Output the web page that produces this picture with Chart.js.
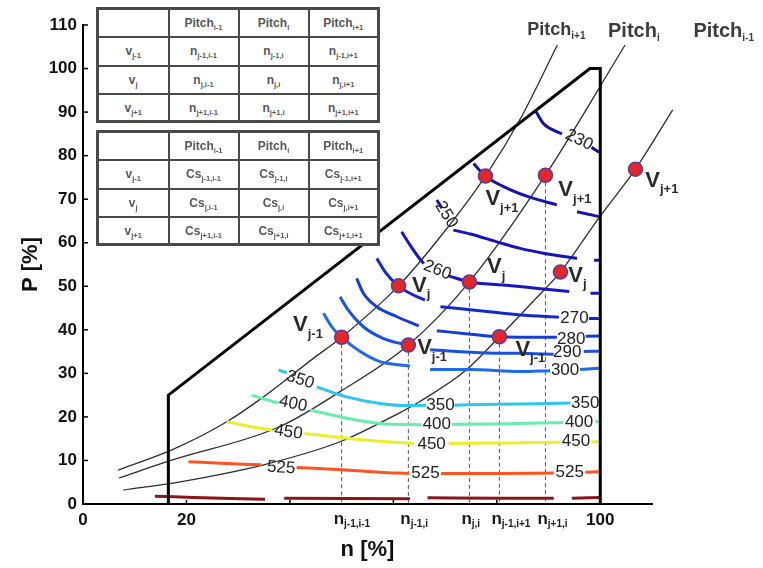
<!DOCTYPE html>
<html><head><meta charset="utf-8">
<script src="https://cdn.jsdelivr.net/npm/chart.js@4.4.0/dist/chart.umd.min.js"></script>
<style>
html,body{margin:0;padding:0;background:#fff;}
#wrap{position:relative;width:763px;height:568px;}
canvas{position:absolute;left:0;top:0;}
.tbl{position:absolute;left:96px;width:283px;border-collapse:collapse;table-layout:fixed;background:#fff;border:3px solid #4a4a4a;font:bold 12px "Liberation Sans",Arial,sans-serif;color:#585858;}
.tbl td{border:2px solid #4a4a4a;text-align:center;vertical-align:middle;padding:0;line-height:12px;overflow:hidden;white-space:nowrap;}
.tbl sub{font-size:7.5px;vertical-align:-3px;line-height:0;}
</style></head>
<body><div id="wrap"><canvas id="c" width="763" height="568"></canvas>
<table class="tbl" id="t1" style="top:7px"></table>
<table class="tbl" id="t2" style="top:130px"></table>
</div>
<script>
// ---------- DATA ----------
// pitch curves (n [%], P [%])
const pitchSubs = ['i+1', 'i', 'i-1'];
const pitchA_n = [6.8, 17.5, 27.8, 34.9, 44.6, 50.0, 61.0, 69.5, 77.8, 84.8, 91.7];
const pitchA_P = [7.8, 12.6, 18.9, 24.6, 33.5, 38.3, 50.1, 62.0, 75.3, 89.0, 105.4];
const pitchB_n = [7.0, 17.0, 38.1, 49.7, 62.9, 74.7, 89.4, 104.8];
const pitchB_P = [6.0, 10.0, 17.8, 25.8, 36.5, 51.0, 75.5, 105.4];
const pitchC_n = [7.8, 18.8, 34.9, 49.7, 61.3, 65.2, 73.9, 80.5, 87.0, 92.3, 99.6, 106.8, 114.0, 121.9];
const pitchC_P = [3.2, 5.1, 9.0, 14.3, 21.0, 23.6, 30.6, 38.4, 46.5, 53.3, 65.5, 76.9, 90.5, 105.4];

// operating points V on each pitch curve
const vSubs = ['j-1', 'j', 'j+1'];
const vA_n = [50.0, 61.0, 77.8], vA_P = [38.3, 50.1, 75.3];
const vB_n = [62.9, 74.7, 89.4], vB_P = [36.5, 51.0, 75.5];
const vC_n = [80.5, 92.3, 106.8], vC_P = [38.4, 53.3, 76.9];

// boundary of operating range
const boundN = [16.5, 16.5, 98.0, 100.0, 100.0];
const boundP = [0, 25.0, 100.0, 100.0, 0];

// contour lines (null = break)
const c230n = [87.4, 89.0, 91.6, 92.6, null, 98.3, 99.8];
const c230P = [90.5, 87.4, 85.5, 85.0, null, 81.9, 80.8];
const c240n = [75.5, 77.8, 81.3, 86.5, 91.6, null, 95.5, 99.8];
const c240P = [78.2, 75.3, 72.9, 70.4, 68.7, null, 67.1, 66.0];
const c250n = [68.4, 69.4, null, 71.6, 74.9, 80.0, 84.5, 89.0, 95.5, null, 98.8, 99.8];
const c250P = [69.8, 67.9, null, 62.9, 62.0, 60.2, 58.7, 57.6, 56.4, null, 56.0, 56.0];
const c260n = [61.6, 63.2, 64.9, 65.9, null, 70.7, 74.7, 81.3, 88.0, 94.0, null, 98.1, 99.8];
const c260P = [62.5, 59.5, 56.6, 55.2, null, 52.4, 51.0, 50.3, 49.5, 48.8, null, 48.4, 48.4];
const c270n = [56.8, 58.4, 60.9, 63.2, 66.1, null, 69.1, 78.1, 84.5, 92.0, null, 97.8, 99.8];
const c270P = [56.4, 53.3, 50.1, 48.4, 46.8, null, 45.3, 44.2, 43.4, 42.9, null, 42.6, 42.6];
const c280n = [52.9, 54.2, 56.8, 60.7, 64.9, null, 68.4, 74.9, 80.5, 86.0, 91.6, null, 97.2, 99.8];
const c280P = [51.8, 48.4, 45.3, 43.0, 40.9, null, 39.8, 39.0, 38.4, 38.3, 38.3, null, 38.5, 38.6];
const c290n = [49.7, 51.3, 54.2, 58.1, 62.9, 64.2, null, 67.1, 78.1, 84.5, 91.0, null, 96.8, 99.8];
const c290P = [47.6, 44.5, 40.7, 38.0, 36.5, 36.2, null, 35.4, 34.7, 34.6, 34.4, null, 35.0, 35.1];
const c300n = [46.5, 48.1, 50.0, 53.6, 57.4, 63.2, null, 67.1, 74.9, 84.5, 90.3, null, 96.1, 99.8];
const c300P = [43.8, 40.7, 38.3, 35.0, 32.7, 31.7, null, 30.9, 30.9, 30.4, 30.6, null, 30.9, 31.2];
const c350n = [37.8, 39.4, null, 45.2, 51.0, 57.4, 63.0, 66.3, null, 71.8, 80.0, 88.0, 94.2];
const c350P = [30.8, 30.1, null, 26.9, 24.6, 23.1, 22.6, 22.6, null, 22.7, 22.9, 23.0, 23.2];
const c400n = [32.6, 36.8, 37.8, null, 43.9, 51.0, 57.4, 65.5, null, 71.3, 80.0, 88.0, 92.9, null, 99.0, 99.8];
const c400P = [25.0, 23.5, 23.2, null, 21.6, 19.7, 18.5, 18.2, null, 18.3, 18.4, 18.6, 18.7, null, 18.9, 18.9];
const c450n = [27.8, 34.2, 36.6, null, 42.8, 51.0, 57.4, 64.0, null, 70.7, 80.0, 88.0, 92.3, null, 98.3, 99.8];
const c450P = [18.9, 17.4, 17.0, null, 16.2, 15.1, 14.4, 13.9, null, 13.9, 14.0, 14.1, 14.2, null, 14.3, 14.3];
const c525n = [20.4, 27.8, 34.4, null, 41.3, 51.0, 57.4, 63.0, null, 69.2, 80.0, 91.0, null, 97.1, 99.8];
const c525P = [9.7, 9.3, 9.0, null, 8.4, 7.8, 7.3, 7.0, null, 7.0, 7.0, 7.1, null, 7.3, 7.4];
const cBaseN = [13.9, 21.3, 35.2, null, 38.9, 63.2, null, 66.6, 80.7, 91.0, null, 94.5, 99.8];
const cBaseP = [1.8, 1.5, 1.1, null, 1.3, 1.2, null, 1.45, 1.3, 1.3, null, 1.3, 1.5];

// contour label texts and anchors (n, P, rotation deg)
const clText = ['230','250','260','270','280','290','300','350','350','350','400','400','400','450','450','450','525','525','525'];
const clN    = [95.9, 70.2, 68.5, 95.0, 94.4, 93.6, 93.2, 42.0, 69.1, 97.1, 40.6, 68.4, 95.9, 39.7, 67.4, 95.3, 38.3, 66.2, 94.1];
const clP    = [83.6, 66.4, 53.7, 42.7, 37.9, 34.9, 30.8, 28.5, 22.7, 23.1, 23.0, 18.3, 18.7, 16.5, 13.8, 14.3, 8.3, 7.0, 7.3];
const clRot  = [27, 58, 22, 0, 0, 0, 0, 18, 0, 0, 12, 0, 0, 8, 0, 0, 4, 0, 0];

// V label anchors (left of "V", vertical centre)
const vlN = [40.6, 63.6, 77.8, 64.6, 78.1, 91.9, 83.6, 93.8, 108.7];
const vlP = [41.1, 50.1, 70.0, 35.8, 54.4, 72.1, 35.4, 52.4, 74.2];
const vlSub = ['j-1','j','j+1','j-1','j','j+1','j-1','j','j+1'];

// pitch label anchors
const plN = [85.9, 101.5, 118.0];
const plP = [108.8, 108.4, 108.4];

// axis ticks
const xTickValues = [0, 20, 100];
const xSpecialSubs = ['j-1,i-1', 'j-1,i', 'j,i', 'j-1,i+1', 'j+1,i'];
const xSpecialN = [vA_n[0], vB_n[0], vB_n[1], vC_n[0], vB_n[2]];
const xSpecialTop = [vA_P[0], vB_P[0], vB_P[1], vC_P[0], vB_P[2]];

// tables
const tblCols = ['i-1', 'i', 'i+1'];
const tblRows = ['j-1', 'j', 'j+1'];

// ---------- TABLES ----------
function buildTable(id, prefix) {
  let h = '<colgroup><col style="width:71px"><col style="width:70px"><col style="width:70px"><col style="width:70px"></colgroup>';
  h += '<tr style="height:28.5px"><td></td>' + tblCols.map(c => 'Pitch<sub>' + c + '</sub>').map(s => '<td>' + s + '</td>').join('') + '</tr>';
  tblRows.forEach((r, ri) => {
    h += '<tr style="height:' + (ri === 2 ? 27.5 : 28.5) + 'px"><td>v<sub>' + r + '</sub></td>' +
      tblCols.map(c => '<td>' + prefix + '<sub>' + r + ',' + c + '</sub></td>').join('') + '</tr>';
  });
  document.getElementById(id).innerHTML = h;
}
buildTable('t1', 'n');
buildTable('t2', 'Cs');

// ---------- CHART ----------
const FONT = '"Liberation Sans", Arial, sans-serif';
Chart.defaults.font.family = FONT;
const zip = (ns, ps) => ns.map((n, i) => ({x: n, y: ps[i]}));

const contours = [
  ['230', c230n, c230P, '#1212a0'],
  ['240', c240n, c240P, '#1414a8'],
  ['250', c250n, c250P, '#1515b4'],
  ['260', c260n, c260P, '#1818c2'],
  ['270', c270n, c270P, '#1428cc'],
  ['280', c280n, c280P, '#163cd6'],
  ['290', c290n, c290P, '#1a52de'],
  ['300', c300n, c300P, '#1f6ae6'],
  ['350', c350n, c350P, '#2cc6ee'],
  ['400', c400n, c400P, '#68eeac'],
  ['450', c450n, c450P, '#ecee2c'],
  ['525', c525n, c525P, '#ff5420'],
  ['base', cBaseN, cBaseP, '#8a1616']
];

const datasets = [];
contours.forEach(c => datasets.push({
  label: c[0], data: zip(c[1], c[2]), showLine: true, borderColor: c[3], borderWidth: 3,
  pointRadius: 0, cubicInterpolationMode: 'monotone', order: 3, spanGaps: false
}));
[[pitchA_n, pitchA_P], [pitchB_n, pitchB_P], [pitchC_n, pitchC_P]].forEach((p, i) => datasets.push({
  label: 'Pitch ' + pitchSubs[i], data: zip(p[0], p[1]), showLine: true, borderColor: '#2e2e2e', borderWidth: 1.3,
  pointRadius: 0, cubicInterpolationMode: 'monotone', order: 4, clip: false
}));
const dashData = [];
xSpecialN.forEach((n, i) => { dashData.push({x: n, y: xSpecialTop[i]}, {x: n, y: 0}, {x: null, y: null}); });
datasets.push({label: 'dash', data: dashData, showLine: true, borderColor: '#555', borderWidth: 1,
  borderDash: [4, 3], pointRadius: 0, order: 5, tension: 0});
datasets.push({label: 'boundary', data: zip(boundN, boundP), showLine: true, borderColor: '#000', borderWidth: 3,
  pointRadius: 0, tension: 0, order: 2, clip: false});
datasets.push({label: 'V', data: zip(vA_n.concat(vB_n, vC_n), vA_P.concat(vB_P, vC_P)), showLine: false,
  pointRadius: 7, pointBackgroundColor: '#e2272c', pointBorderColor: '#5a3a96', pointBorderWidth: 1.5, order: 0, clip: false});

function subText(ctx, x, y, main, sub, mainFont, subFont, dy) {
  ctx.font = mainFont;
  ctx.fillText(main, x, y);
  const w = ctx.measureText(main).width;
  ctx.font = subFont;
  ctx.fillText(sub, x + w, y + dy);
}

const annot = {
  id: 'annot',
  afterDraw(chart) {
    const {ctx} = chart;
    const xs = chart.scales.x, ys = chart.scales.y;
    const X = v => xs.getPixelForValue(v), Y = v => ys.getPixelForValue(v);
    ctx.save();
    // inner tick marks
    ctx.strokeStyle = '#000'; ctx.lineWidth = 1.5;
    for (let v = 0; v <= 110; v += 10) { ctx.beginPath(); ctx.moveTo(X(0), Y(v)); ctx.lineTo(X(0) + 5, Y(v)); ctx.stroke(); }
    [20, 40, 60, 80].forEach(v => { ctx.beginPath(); ctx.moveTo(X(v), Y(0)); ctx.lineTo(X(v), Y(0) - 4); ctx.stroke(); });
    // contour labels
    ctx.fillStyle = '#222'; ctx.textAlign = 'center'; ctx.textBaseline = 'middle';
    ctx.font = '17px ' + FONT;
    clText.forEach((t, i) => {
      ctx.save(); ctx.translate(X(clN[i]), Y(clP[i])); ctx.rotate(clRot[i] * Math.PI / 180);
      ctx.fillText(t, 0, 0); ctx.restore();
    });
    // V labels
    ctx.textAlign = 'left'; ctx.fillStyle = '#2a2a2a';
    vlSub.forEach((s, i) => subText(ctx, X(vlN[i]), Y(vlP[i]), 'V', s, 'bold 22px ' + FONT, 'bold 13px ' + FONT, 9));
    // pitch labels
    ctx.fillStyle = '#3c3c3c';
    pitchSubs.forEach((s, i) => subText(ctx, X(plN[i]), Y(plP[i]), 'Pitch', s,
      'bold ' + (i === 0 ? 18 : 20) + 'px ' + FONT, 'bold 10px ' + FONT, 6));
    // special n labels on x axis
    ctx.fillStyle = '#1a1a1a';
    xSpecialSubs.forEach((s, i) => subText(ctx, X(xSpecialN[i]) - 8, Y(0) + 15, 'n', s, 'bold 17px ' + FONT, 'bold 10px ' + FONT, 5));
    ctx.restore();
  }
};

new Chart(document.getElementById('c'), {
  type: 'scatter',
  data: {datasets},
  plugins: [annot],
  options: {
    responsive: false, animation: false,
    layout: {padding: {top: 25, right: 111, left: 0, bottom: 0}},
    elements: {line: {capBezierPoints: false}},
    plugins: {legend: {display: false}, tooltip: {enabled: false}},
    scales: {
      x: {
        type: 'linear', min: 0, max: 110,
        afterBuildTicks: s => { s.ticks = xTickValues.map(v => ({value: v})); },
        afterFit: s => { s.height = 64; },
        grid: {display: false, drawTicks: false},
        border: {display: true, color: '#000', width: 2},
        ticks: {font: {size: 17, weight: 'bold'}, color: '#111', padding: 6, maxRotation: 0, autoSkip: false},
        title: {display: true, text: 'n [%]', font: {size: 22, weight: 'bold'}, color: '#111', padding: {top: 0, bottom: 5}}
      },
      y: {
        type: 'linear', min: 0, max: 110,
        ticks: {stepSize: 10, font: {size: 17, weight: 'bold'}, color: '#111', padding: 6},
        afterFit: s => { s.width = 83; },
        grid: {display: false, drawTicks: false},
        border: {display: true, color: '#000', width: 2},
        title: {display: true, text: 'P [%]', font: {size: 22, weight: 'bold'}, color: '#111', padding: {top: 18, bottom: 0}}
      }
    }
  }
});
</script>
</body></html>
